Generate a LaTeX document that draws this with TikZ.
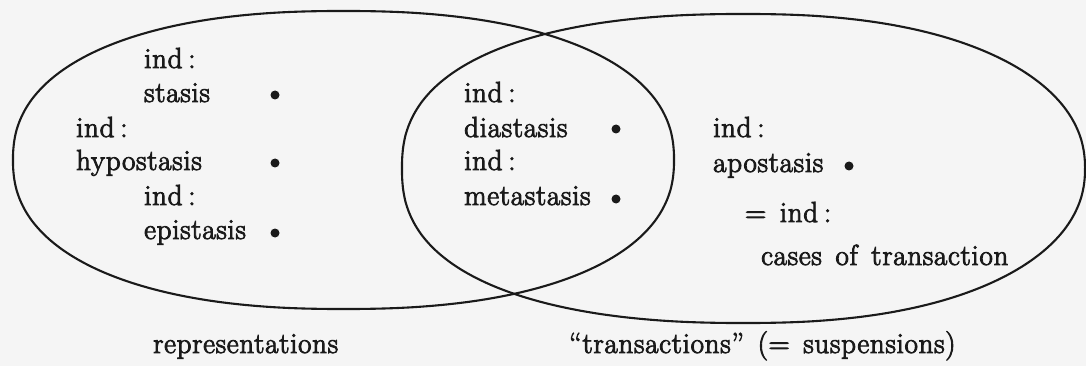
\documentclass[tikz,border=0pt]{standalone}
\usepackage{fontspec}
\setmainfont{Latin Modern Roman}[FakeBold=3,LetterSpace=2.5,WordSpace=1.45]
\usepackage{tikz}
\definecolor{bg}{HTML}{F5F5F5}
\definecolor{ink}{HTML}{1A1A1A}
\newcommand{\indc}{ind\hspace{0.2em}:}
\tikzset{
  lbl/.style={anchor=base west, inner sep=0pt, text=ink, font=\fontsize{29}{34}\selectfont},
  pt/.style={circle, fill=ink, inner sep=0pt, minimum size=9pt},
  outline/.style={draw=ink, line width=2.1pt, line join=round}
}
\begin{document}
\begin{tikzpicture}[x=1pt,y=-1pt]
\fill[bg] (0,0) rectangle (1086,366);
\useasboundingbox (0,0) rectangle (1086,366);
% left set (representations)
\draw[outline] plot[domain=1:361,samples=181,smooth]
  ({343.5+330.5*sign(cos(\x))*abs(cos(\x))^0.87},{160+149*sign(sin(\x))*abs(sin(\x))^0.87}) -- cycle;
% right set (transactions)
\draw[outline] plot[domain=1:361,samples=181,smooth]
  ({743.5+341.5*sign(cos(\x))*abs(cos(\x))^(2/(2.3-0.1*cos(\x)))},{168.5+154.5*sign(sin(\x))*abs(sin(\x))^(2/(2.3-0.1*cos(\x)))}) -- cycle;
% left texts
\node[lbl] (i1) at (144,68) {\indc};
\node[lbl] (st) at (144,102) {stasis};
\node[pt] (d1) at (275,95) {};
\node[lbl] (i2) at (76,137) {\indc};
\node[lbl] (hy) at (76,170) {hypostasis};
\node[pt] (d2) at (275,163) {};
\node[lbl] (i3) at (144,205) {\indc};
\node[lbl] (ep) at (144,239) {epistasis};
\node[pt] (d3) at (275,233) {};
% middle texts
\node[lbl] (i4) at (464,102) {\indc};
\node[lbl] (di) at (464,137) {diastasis};
\node[pt] (d4) at (616,129) {};
\node[lbl] (i5) at (464,170) {\indc};
\node[lbl] (me) at (464,205) {metastasis};
\node[pt] (d5) at (616,199) {};
% right texts
\node[lbl] (i6) at (713,137) {\indc};
\node[lbl] (ap) at (713,172) {apostasis};
\node[pt] (d6) at (849,166) {};
\node[lbl] (eq) at (745,222) {=\ \indc};
\node[lbl] (ca) at (761,265) {cases of transaction};
% captions
\node[lbl] (rep) at (153,353) {representations};
\node[lbl] (tra) at (569,353) {``transactions''\ (=\ suspensions)};
\end{tikzpicture}
\end{document}
